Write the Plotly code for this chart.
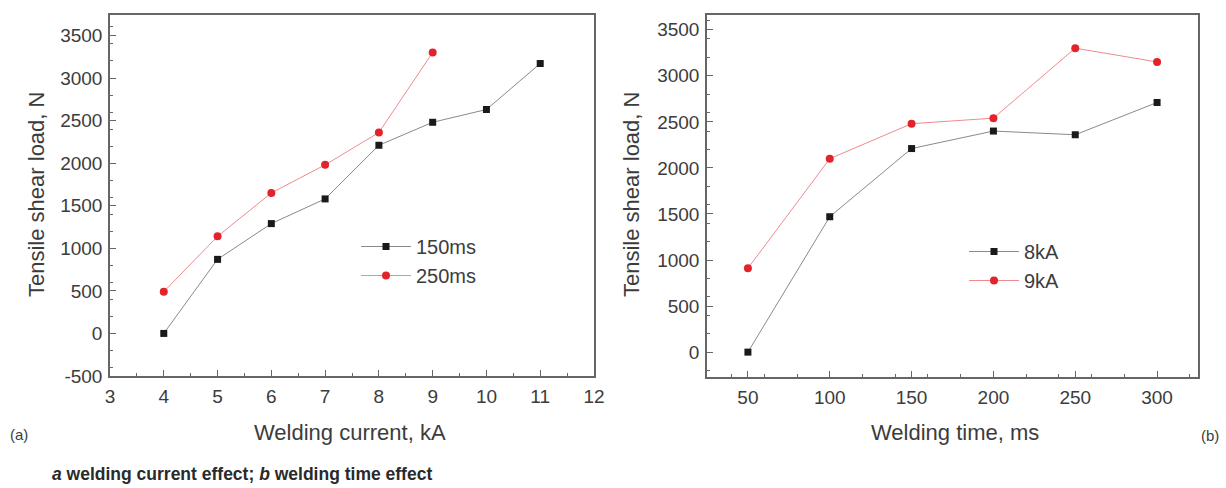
import plotly.graph_objects as go

# Panel (a): welding current effect
current_kA = [4, 5, 6, 7, 8, 9, 10, 11]
load_150ms = [0, 870, 1290, 1580, 2210, 2480, 2630, 3170]
current_kA_250 = [4, 5, 6, 7, 8, 9]
load_250ms = [490, 1140, 1650, 1980, 2360, 3300]

# Panel (b): welding time effect
time_ms = [50, 100, 150, 200, 250, 300]
load_8kA = [0, 1470, 2210, 2400, 2360, 2710]
load_9kA = [910, 2100, 2480, 2540, 3300, 3150]

x_ticks_a = [3, 4, 5, 6, 7, 8, 9, 10, 11, 12]
y_ticks_a = [-500, 0, 500, 1000, 1500, 2000, 2500, 3000, 3500]
y_labels_a = ["-500", "0", "500", "1000", "1500", "2000", "2500", "3000", "3500"]
x_ticks_b = [50, 100, 150, 200, 250, 300]
y_ticks_b = [0, 500, 1000, 1500, 2000, 2500, 3000, 3500]

FONT = "Liberation Sans, Arial, sans-serif"
TXT = "#3c3c3c"
BLACK = "#1a1a1a"
RED = "#e3232c"
LINE_BLACK = "#8a8a8a"
LINE_RED = "#f08a8f"
AXC = "#666666"

fig = go.Figure()

fig.add_trace(go.Scatter(x=current_kA, y=load_150ms, name="150ms", mode="lines+markers",
                         line=dict(color=LINE_BLACK, width=1),
                         marker=dict(symbol="square", size=7, color=BLACK),
                         xaxis="x", yaxis="y", legend="legend"))
fig.add_trace(go.Scatter(x=current_kA_250, y=load_250ms, name="250ms", mode="lines+markers",
                         line=dict(color=LINE_RED, width=1),
                         marker=dict(symbol="circle", size=8, color=RED),
                         xaxis="x", yaxis="y", legend="legend"))
fig.add_trace(go.Scatter(x=time_ms, y=load_8kA, name="8kA", mode="lines+markers",
                         line=dict(color=LINE_BLACK, width=1),
                         marker=dict(symbol="square", size=7, color=BLACK),
                         xaxis="x2", yaxis="y2", legend="legend2"))
fig.add_trace(go.Scatter(x=time_ms, y=load_9kA, name="9kA", mode="lines+markers",
                         line=dict(color=LINE_RED, width=1),
                         marker=dict(symbol="circle", size=8, color=RED),
                         xaxis="x2", yaxis="y2", legend="legend2"))

W, H = 1226, 488

def px_x(p):
    return p / W

def px_y(p):
    return 1 - p / H

axis_common = dict(showline=True, mirror=True, linecolor=AXC, linewidth=1.5,
                   ticks="inside", ticklen=6, tickwidth=1, tickcolor=AXC,
                   showgrid=False, zeroline=False, ticklabelstandoff=2, automargin=False,
                   tickfont=dict(family=FONT, size=19, color=TXT),
                   minor=dict(ticks="inside", ticklen=3, tickcolor=AXC, tickwidth=1))

legend_common = dict(xanchor="left", yanchor="top", bgcolor="rgba(0,0,0,0)",
                     font=dict(family=FONT, size=20, color=TXT),
                     tracegroupgap=0, itemwidth=50)

fig.update_layout(
    width=W, height=H, autosize=False,
    margin=dict(l=0, r=0, t=0, b=0, pad=0, autoexpand=False),
    paper_bgcolor="white", plot_bgcolor="white",
    font=dict(family=FONT, color=TXT),
    xaxis=dict(domain=[px_x(110), px_x(594)], range=[3, 12], tickvals=x_ticks_a,
               anchor="y", **axis_common),
    yaxis=dict(domain=[px_y(376), px_y(15)], range=[-500, 3740], tickvals=y_ticks_a,
               ticktext=y_labels_a, anchor="x", **axis_common),
    xaxis2=dict(domain=[px_x(707), px_x(1198)], range=[25, 325], tickvals=x_ticks_b,
                anchor="y2", **axis_common),
    yaxis2=dict(domain=[px_y(377), px_y(15)], range=[-270, 3660], tickvals=y_ticks_b,
                anchor="x2", **axis_common),
    legend=dict(x=px_x(356), y=px_y(227), **legend_common),
    legend2=dict(x=px_x(964), y=px_y(232), **legend_common),
    showlegend=True,
)

def note(text, x, y, size, angle=0, xanchor="center", **kw):
    fig.add_annotation(text=text, x=px_x(x), y=px_y(y), xref="paper", yref="paper",
                       xanchor=xanchor, yanchor="middle", textangle=angle, showarrow=False,
                       font=dict(family=FONT, size=size, color=kw.get("color", TXT),
                                 weight=kw.get("weight", "normal")))

note("Tensile shear load, N", 36, 195, 22, angle=-90)
note("Tensile shear load, N", 631, 195, 22, angle=-90)
note("Welding current, kA", 350, 432, 22)
note("Welding time, ms", 955, 432, 22)
note("(a)", 19, 434, 15)
note("(b)", 1210, 435, 15)
note("<i>a</i> welding current effect; <i>b</i> welding time effect", 50, 474, 17.5,
     xanchor="left", color="#2a2a2a", weight="bold")

css_js = (
    "var s=document.createElement('style');"
    "s.textContent='html,body{margin:0;padding:0;overflow:hidden;}';"
    "document.head.appendChild(s);"
)

fig.write_html("out.html", post_script=css_js,
               config={"responsive": False, "displayModeBar": False})
